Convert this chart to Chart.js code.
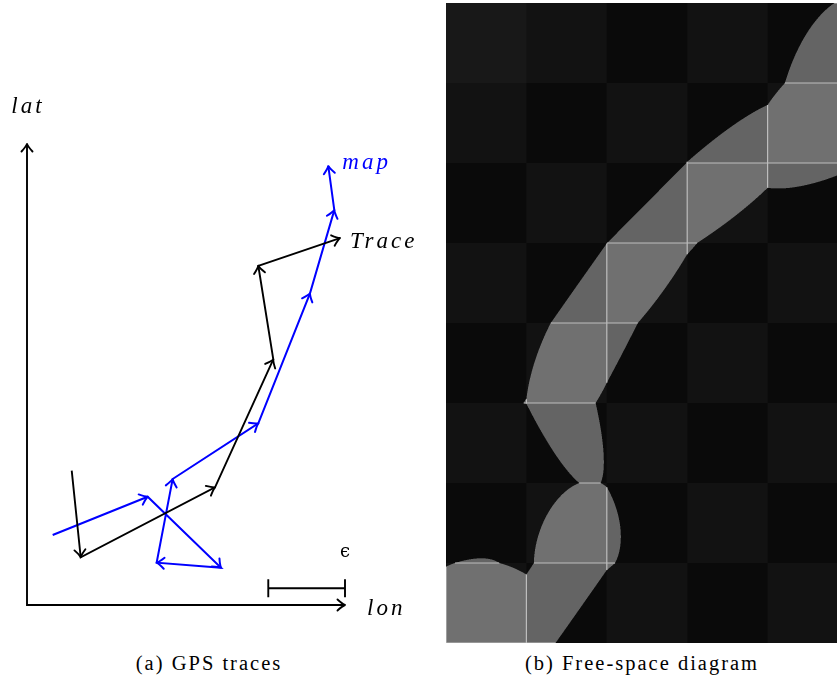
<!DOCTYPE html>
<html>
<head>
<meta charset="utf-8">
<script src="https://cdn.jsdelivr.net/npm/chart.js@4.4.0/dist/chart.umd.min.js"></script>
<style>
  html, body { margin: 0; padding: 0; background: #fff; overflow: hidden; }
  body { width: 837px; height: 681px; position: relative; }
  #gps { position: absolute; left: 0; top: 0; }
  #fsd { position: absolute; left: 446px; top: 3px; }
  .caption {
    position: absolute; top: 653px; font-family: 'Liberation Serif', 'Times New Roman', serif;
    font-size: 20.5px; line-height: 20px; letter-spacing: 2px; color: #000;
    white-space: nowrap; transform: translateX(-50%);
  }
</style>
</head>
<body>
<canvas id="gps" width="440" height="640"></canvas>
<canvas id="fsd" width="402" height="640"></canvas>
<div class="caption" style="left:209px">(a) GPS traces</div>
<div class="caption" style="left:642px">(b) Free-space diagram</div>

<script>
// GPS trace and map polyline (lon/lat in plot units)
const traceLon = [1.125, 1.351, 4.730, 6.196, 5.819, 7.874];
const traceLat = [3.379, 1.200, 2.961, 6.181, 8.536, 9.233];
const mapLon = [0.646, 3.036, 4.881, 3.262, 3.664, 5.819, 7.119, 7.731, 7.580];
const mapLat = [1.761, 2.725, 0.939, 1.065, 3.170, 4.570, 7.841, 9.937, 11.044];
const epsilon = 1.93;
const axisMax = { lon: 8, lat: 11.6 };

const toPts = (xs, ys) => xs.map((x, i) => ({ x, y: ys[i] }));

function arrowHead(ctx, x, y, ang, color, lw) {
  ctx.save();
  ctx.translate(x, y);
  ctx.rotate(ang);
  ctx.strokeStyle = color;
  ctx.lineWidth = lw;
  ctx.lineCap = 'round';
  ctx.lineJoin = 'round';
  ctx.beginPath();
  ctx.moveTo(-7.5, -5.5);
  ctx.quadraticCurveTo(-2.5, -1, 0, 0);
  ctx.quadraticCurveTo(-2.5, 1, -7.5, 5.5);
  ctx.stroke();
  ctx.restore();
}

// ── Left panel: axes, arrows, epsilon bar, labels ──
const gpsDecor = {
  id: 'gpsDecor',
  afterDatasetsDraw(chart) {
    const { ctx, scales: { x, y } } = chart;
    const ox = x.getPixelForValue(0), oy = y.getPixelForValue(0);
    const ex = x.getPixelForValue(axisMax.lon), ey = y.getPixelForValue(axisMax.lat);

    ctx.save();
    ctx.strokeStyle = '#000';
    ctx.lineWidth = 1.9;
    ctx.beginPath();
    ctx.moveTo(ox, ey); ctx.lineTo(ox, oy); ctx.lineTo(ex, oy);
    ctx.stroke();
    arrowHead(ctx, ox, ey, -Math.PI / 2, '#000', 1.9);
    arrowHead(ctx, ex, oy, 0, '#000', 1.9);

    // arrowheads at each segment end
    chart.data.datasets.forEach(ds => {
      for (let k = 1; k < ds.data.length; k++) {
        const ax = x.getPixelForValue(ds.data[k - 1].x), ay = y.getPixelForValue(ds.data[k - 1].y);
        const bx = x.getPixelForValue(ds.data[k].x), by = y.getPixelForValue(ds.data[k].y);
        arrowHead(ctx, bx, by, Math.atan2(by - ay, bx - ax), ds.borderColor, ds.borderWidth);
      }
    });

    // epsilon scale bar, ends at the lon axis tip
    const barY = y.getPixelForValue(0.42);
    const bx0 = x.getPixelForValue(axisMax.lon - epsilon), bx1 = x.getPixelForValue(axisMax.lon);
    ctx.lineWidth = 1.9;
    ctx.beginPath();
    ctx.moveTo(bx0, barY); ctx.lineTo(bx1, barY);
    ctx.moveTo(bx0, barY - 9); ctx.lineTo(bx0, barY + 9);
    ctx.moveTo(bx1, barY - 9); ctx.lineTo(bx1, barY + 9);
    ctx.stroke();

    ctx.fillStyle = '#000';
    ctx.font = '18px "DejaVu Serif"';
    ctx.textAlign = 'center';
    ctx.fillText('\u03F5', bx1, barY - 31);

    ctx.font = 'italic 23px "Liberation Serif"';
    ctx.letterSpacing = '3px';
    ctx.textAlign = 'center';
    ctx.fillText('lat', ox + 1, ey - 31);
    ctx.textAlign = 'left';
    ctx.fillText('lon', ex + 22, oy + 10);
    const tEnd = chart.data.datasets[0].data.at(-1);
    ctx.fillText('Trace', x.getPixelForValue(tEnd.x) + 10, y.getPixelForValue(tEnd.y) + 10);
    const mEnd = chart.data.datasets[1].data.at(-1);
    ctx.fillStyle = '#0000ff';
    ctx.fillText('map', x.getPixelForValue(mEnd.x) + 14, y.getPixelForValue(mEnd.y) + 3);
    ctx.restore();
  }
};

new Chart(document.getElementById('gps'), {
  type: 'scatter',
  data: {
    datasets: [
      { label: 'Trace', data: toPts(traceLon, traceLat), showLine: true, borderColor: '#000000', borderWidth: 1.9, pointRadius: 0 },
      { label: 'map', data: toPts(mapLon, mapLat), showLine: true, borderColor: '#0000ff', borderWidth: 2, pointRadius: 0 }
    ]
  },
  options: {
    responsive: false, devicePixelRatio: 1, animation: false, events: [],
    layout: { padding: { left: 27, top: 144, right: 95, bottom: 35 } },
    scales: {
      x: { type: 'linear', min: 0, max: axisMax.lon, display: false },
      y: { type: 'linear', min: 0, max: axisMax.lat, display: false }
    },
    plugins: { legend: { display: false }, tooltip: { enabled: false } }
  },
  plugins: [gpsDecor]
});

// ── Right panel: free-space diagram computed from the two polylines ──
const lerp = (arr, i, s) => arr[i] + (arr[i + 1] - arr[i]) * s;

function freeInterval(px, py, xs, ys, k) {
  // t range on segment k where distance to (px,py) <= epsilon
  const vx = xs[k + 1] - xs[k], vy = ys[k + 1] - ys[k];
  const dx = px - xs[k], dy = py - ys[k];
  const a = vx * vx + vy * vy, b = dx * vx + dy * vy, c = dx * dx + dy * dy - epsilon * epsilon;
  const disc = b * b - a * c;
  if (disc < 0) return null;
  const r = Math.sqrt(disc);
  const t0 = Math.max(0, (b - r) / a), t1 = Math.min(1, (b + r) / a);
  return t0 < t1 ? [t0, t1] : null;
}

const freeSpace = {
  id: 'freeSpace',
  beforeDatasetsDraw(chart) {
    const { ctx, chartArea: area, scales: { x, y } } = chart;
    const nI = traceLon.length - 1, nJ = mapLon.length - 1;
    const w = Math.round(area.right - area.left), h = Math.round(area.bottom - area.top);
    const img = ctx.createImageData(w, h);
    const eps2 = epsilon * epsilon;
    const SS = 3;
    const shade = (i, j, free) => {
      const odd = (i + j) % 2 === 1;
      if (free) return odd ? 100 : 112;
      if (i === 0 && j === nJ - 1) return 24;
      return odd ? 10 : 18;
    };
    for (let py = 0; py < h; py++) {
      for (let px = 0; px < w; px++) {
        let sum = 0;
        for (let sy = 0; sy < SS; sy++) {
          const v = y.getValueForPixel(area.top + py + (sy + 0.5) / SS);
          const j = Math.min(nJ - 1, Math.max(0, Math.floor(v)));
          const t = v - j;
          const qx = lerp(mapLon, j, t), qy = lerp(mapLat, j, t);
          for (let sx = 0; sx < SS; sx++) {
            const u = x.getValueForPixel(area.left + px + (sx + 0.5) / SS);
            const i = Math.min(nI - 1, Math.max(0, Math.floor(u)));
            const s = u - i;
            const dx = lerp(traceLon, i, s) - qx, dy = lerp(traceLat, i, s) - qy;
            sum += shade(i, j, dx * dx + dy * dy <= eps2);
          }
        }
        const g = Math.round(sum / (SS * SS));
        const o = (py * w + px) * 4;
        img.data[o] = img.data[o + 1] = img.data[o + 2] = g;
        img.data[o + 3] = 255;
      }
    }
    ctx.putImageData(img, area.left, area.top);

    // free intervals on the cell boundaries
    ctx.save();
    ctx.strokeStyle = '#bdbdbd';
    ctx.lineWidth = 1.2;
    ctx.beginPath();
    for (let i = 0; i <= nI; i++) {
      for (let j = 0; j < nJ; j++) {
        const iv = freeInterval(traceLon[i], traceLat[i], mapLon, mapLat, j);
        if (!iv) continue;
        ctx.moveTo(x.getPixelForValue(i), y.getPixelForValue(j + iv[0]));
        ctx.lineTo(x.getPixelForValue(i), y.getPixelForValue(j + iv[1]));
      }
    }
    for (let j = 0; j <= nJ; j++) {
      for (let i = 0; i < nI; i++) {
        const iv = freeInterval(mapLon[j], mapLat[j], traceLon, traceLat, i);
        if (!iv) continue;
        ctx.moveTo(x.getPixelForValue(i + iv[0]), y.getPixelForValue(j));
        ctx.lineTo(x.getPixelForValue(i + iv[1]), y.getPixelForValue(j));
      }
    }
    ctx.stroke();
    ctx.restore();
  }
};

new Chart(document.getElementById('fsd'), {
  type: 'scatter',
  data: { datasets: [] },
  options: {
    responsive: false, devicePixelRatio: 1, animation: false, events: [],
    scales: {
      x: { type: 'linear', min: 0, max: traceLon.length - 1, display: false },
      y: { type: 'linear', min: 0, max: mapLon.length - 1, display: false }
    },
    plugins: { legend: { display: false }, tooltip: { enabled: false } }
  },
  plugins: [freeSpace]
});
</script>
</body>
</html>
